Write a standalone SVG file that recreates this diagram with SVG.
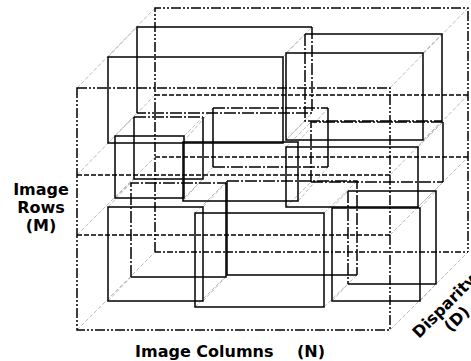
<svg xmlns="http://www.w3.org/2000/svg" width="471" height="361" viewBox="0 0 471 361">
<style>
.box{fill:none;stroke:#000;stroke-width:1.5;stroke-dasharray:10 2 2 2 2 2}
.mid{fill:none;stroke:#000;stroke-width:1.4;stroke-dasharray:5 2}
.bot{fill:none;stroke:#000;stroke-width:1.4;stroke-dasharray:6 2 2 2}
.s{fill:none;stroke:#000;stroke-width:1.5}
.h{fill:none;stroke:#000;stroke-width:1.5;stroke-dasharray:12 2 2 2}
.g{fill:none;stroke:#bdbdbd;stroke-width:1;stroke-dasharray:4 2}
.t{font-family:"DejaVu Sans",Verdana,sans-serif;font-weight:bold;font-size:16px;fill:#000}
</style>
<rect width="471" height="361" fill="#fff"/>
<g id="depth-edges">
<path class="g" d="M77,88L155,8M390,88L468,8M77,330L155,252M390,330L468,252M77,175L155,95M390,175L468,95M77,235L155,157M390,235L468,157"/>
<path class="g" d="M108,57L137,27M283,57L312,27M108,143L137,113M283,143L312,113"/>
<path class="g" d="M286,53L305,34M423,53L442,34M286,140L305,121M423,140L442,121"/>
<path class="g" d="M286,147L311,122M418,147L443,122M286,207L311,182M418,207L443,182"/>
<path class="g" d="M183,142L213,108M298,142L328,108M183,201L213,167M298,201L328,167"/>
<path class="g" d="M115,136L134,117M184,136L203,117M115,198L134,179M184,198L203,179"/>
<path class="g" d="M108,207L131,183M203,207L226,183M108,301L131,277M203,301L226,277"/>
<path class="g" d="M195,213L227,181M324,213L357,181M195,307L227,275M324,307L357,275"/>
<path class="g" d="M332,208L348,191M420,208L436,191M332,301L348,284M420,301L436,284"/>
</g>
<g id="volume">
<path class="box" d="M155,252V8H468V252"/>
<path class="bot" d="M155,252H468"/>
<path class="mid" d="M155,95H468M155,157H468"/>
<path class="box" d="M77,88H390V330H77Z"/>
<path class="mid" d="M77,175H390M77,235H390"/>
</g>
<g id="c1">
<rect class="s" x="108" y="57" width="175" height="86"/>
<path class="s" d="M137,113V27H312"/>
<path class="h" d="M312,27V113H137"/>
</g>
<g id="c2">
<rect class="s" x="286" y="53" width="137" height="87"/>
<path class="s" d="M305,34H442V121"/>
<path class="h" d="M305,34V121H442"/>
</g>
<g id="c3">
<rect class="s" x="286" y="147" width="132" height="60"/>
<path class="s" d="M443,122V182"/>
<path class="h" d="M311,182V122H443M311,182H443"/>
</g>
<g id="c4">
<rect class="s" x="183" y="142" width="115" height="59"/>
<path class="s" d="M213,108V167M328,108V167"/>
<path class="h" d="M213,108H328M213,167H328"/>
</g>
<g id="c5">
<rect class="s" x="115" y="136" width="69" height="62"/>
<path class="s" d="M134,117V179H203V117"/>
<path class="h" d="M134,117H203"/>
</g>
<g id="c6">
<rect class="s" x="108" y="207" width="95" height="94"/>
<path class="s" d="M226,183V277H131"/>
<path class="h" d="M131,277V183H226"/>
</g>
<g id="c7">
<rect class="s" x="195" y="213" width="129" height="94"/>
<path class="s" d="M227,181V275H357"/>
<path class="h" d="M227,181H357V275"/>
</g>
<g id="c8">
<rect class="s" x="332" y="208" width="88" height="93"/>
<path class="s" d="M348,191H436V284H348"/>
<path class="h" d="M348,191V284"/>
</g>
<g id="labels">
<text class="t" text-anchor="middle"><tspan x="41" y="195">Image</tspan><tspan x="41" y="213">Rows</tspan><tspan x="41" y="231">(M)</tspan></text>
<text class="t" y="357"><tspan x="135">Image Columns</tspan><tspan x="297">(N)</tspan></text>
<g transform="translate(419,339) rotate(-45)">
<text class="t"><tspan x="0" y="0">Disparity</tspan><tspan x="27" y="18">(D)</tspan></text>
</g>
</g>
</svg>
